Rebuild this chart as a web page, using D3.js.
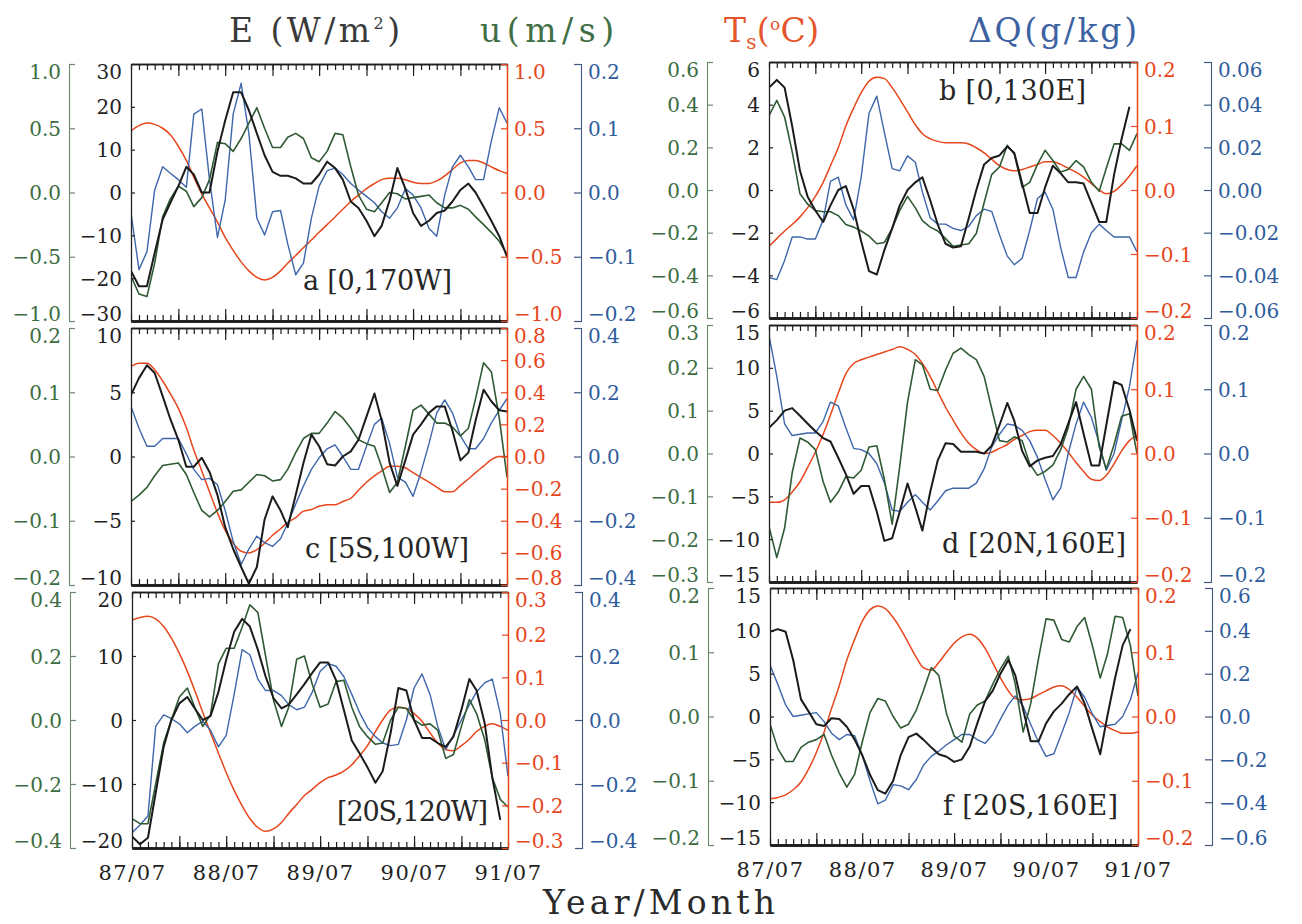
<!DOCTYPE html>
<html>
<head>
<meta charset="utf-8">
<script src="https://cdn.jsdelivr.net/npm/d3@7"></script>
<style>
  html, body { margin: 0; padding: 0; background: #ffffff; }
  svg { display: block; }
  text { font-family: "DejaVu Serif", serif; }
</style>
</head>
<body>
<svg id="chart" width="1302" height="924"></svg>
<script>
// ---- time axis -------------------------------------------------------------
const xTickLabels = ["87/07", "88/07", "89/07", "90/07", "91/07"];
const startMonth = new Date(1987, 6, 1);
const endMonth = new Date(1991, 6, 1);

// ---- a [0,170W] ------------------------------------------------------------
const E_a = [-18.3,-21.9,-21.9,-14.1,-6.3,-2.4,1.5,6.0,4.2,0.0, 0.0,9.6,16.8,23.4,23.4,19.2,13.8,8.7,4.8,3.9, 3.9,3.3,2.1,2.1,4.2,7.2,5.7,3.0,-2.1,-3.6, -6.6,-10.2,-7.8,-1.8,5.7,0.9,-4.8,-7.8,-6.6,-4.8, -4.2,-2.1,0.6,2.1,0.0,-3.3,-6.6,-10.2,-15.0];
const U_a = [-0.65,-0.79,-0.81,-0.55,-0.19,-0.05,0.05,0.01,-0.11,-0.04, 0.10,0.39,0.38,0.32,0.42,0.54,0.66,0.50,0.35,0.35, 0.43,0.46,0.42,0.27,0.24,0.32,0.46,0.45,0.20,-0.02, -0.13,-0.15,-0.08,0.00,-0.01,-0.05,-0.04,-0.03,-0.02,-0.08, -0.12,-0.12,-0.10,-0.13,-0.19,-0.25,-0.31,-0.38,-0.48];
const TS_a = [0.48,0.52,0.54,0.53,0.50,0.45,0.36,0.25,0.12,-0.01, -0.12,-0.23,-0.35,-0.45,-0.54,-0.61,-0.66,-0.68,-0.66,-0.61, -0.55,-0.49,-0.43,-0.37,-0.31,-0.25,-0.19,-0.13,-0.07,-0.02, 0.03,0.07,0.10,0.11,0.11,0.10,0.08,0.07,0.07,0.09, 0.13,0.18,0.23,0.25,0.25,0.23,0.20,0.17,0.15];
const DQ_a = [-0.032,-0.120,-0.092,0.004,0.040,0.030,0.020,0.008,0.122,0.130, 0.020,-0.070,-0.012,0.122,0.170,0.092,-0.040,-0.066,-0.030,-0.028, -0.080,-0.128,-0.110,-0.040,0.010,0.034,0.038,0.028,0.014,0.004, -0.006,-0.016,-0.030,-0.040,-0.024,0.006,-0.004,-0.024,-0.056,-0.068, -0.004,0.040,0.058,0.040,0.020,0.020,0.080,0.132,0.108];

// ---- b [0,130E] ------------------------------------------------------------
const E_b = [4.8,5.16,4.8,3.0,0.9,-0.3,-0.96,-1.5,-0.72,0.0, 0.18,-0.9,-2.4,-3.8,-3.96,-2.82,-1.8,-0.72,0.0,0.36, 0.6,-0.48,-1.62,-2.52,-2.7,-2.64,-1.32,0.0,1.2,1.5, 1.62,2.04,1.74,0.3,-1.08,-1.08,0.12,1.14,0.78,0.36, 0.36,0.3,-0.6,-1.5,-1.5,0.72,2.4,3.9,null];
const U_b = [0.348,0.42,0.342,0.18,-0.018,-0.066,-0.096,-0.102,-0.102,-0.12, -0.162,-0.174,-0.192,-0.216,-0.252,-0.246,-0.18,-0.096,-0.03,-0.084, -0.144,-0.174,-0.192,-0.228,-0.264,-0.258,-0.252,-0.204,-0.06,0.072, 0.108,0.21,0.168,0.012,0.036,0.12,0.186,0.138,0.084,0.096, 0.138,0.108,0.036,-0.006,0.102,0.216,0.216,0.186,0.264];
const TS_b = [-0.088,-0.076,-0.064,-0.054,-0.042,-0.028,-0.010,0.012,0.038,0.066, 0.100,0.128,0.152,0.170,0.176,0.174,0.160,0.142,0.122,0.102, 0.088,0.080,0.076,0.074,0.074,0.074,0.072,0.066,0.058,0.048, 0.038,0.032,0.030,0.032,0.036,0.040,0.044,0.044,0.040,0.034, 0.028,0.020,0.010,0.000,-0.006,-0.002,0.008,0.022,0.038];
const DQ_b = [-0.041,-0.042,-0.033,-0.022,-0.022,-0.023,-0.023,-0.014,0.004,0.006, -0.007,-0.014,0.006,0.036,0.044,0.027,0.010,0.009,0.016,0.013, -0.001,-0.013,-0.016,-0.016,-0.018,-0.019,-0.017,-0.012,-0.009,-0.010, -0.021,-0.031,-0.035,-0.032,-0.019,-0.004,-0.001,-0.009,-0.027,-0.041, -0.041,-0.029,-0.020,-0.016,-0.019,-0.022,-0.022,-0.022,-0.029];

// ---- c [5S,100W] -----------------------------------------------------------
const E_c = [4.8,6.1,7.1,6.5,4.7,2.9,1.3,-0.8,-0.8,-0.1, -1.2,-3.0,-5.5,-7.2,-8.6,-9.9,-8.6,-4.9,-3.1,-4.2, -5.5,-3.0,-0.5,1.7,0.8,-0.6,-0.7,0.0,0.4,1.3, 3.1,4.9,2.8,-0.5,-2.3,-0.3,1.7,2.5,3.4,3.9, 3.9,2.0,-0.3,0.3,2.8,5.2,4.3,3.6,3.5];
const U_c = [-0.070,-0.060,-0.048,-0.030,-0.014,-0.012,-0.010,-0.028,-0.056,-0.084, -0.094,-0.084,-0.070,-0.054,-0.052,-0.040,-0.028,-0.030,-0.038,-0.036, -0.020,0.006,0.028,0.036,0.036,0.052,0.070,0.060,0.044,0.026, 0.020,0.016,-0.016,-0.056,-0.040,0.016,0.072,0.080,0.066,0.052, 0.052,0.046,0.032,0.044,0.090,0.146,0.132,0.060,-0.032];
const TS_c = [0.56,0.58,0.58,0.54,0.47,0.39,0.30,0.18,0.04,-0.09, -0.22,-0.35,-0.46,-0.54,-0.59,-0.60,-0.58,-0.54,-0.49,-0.45, -0.41,-0.38,-0.34,-0.33,-0.31,-0.30,-0.30,-0.28,-0.26,-0.21, -0.16,-0.12,-0.09,-0.06,-0.06,-0.07,-0.10,-0.13,-0.16,-0.19, -0.22,-0.22,-0.18,-0.14,-0.10,-0.06,-0.02,0.00,0.00];
const DQ_c = [0.156,0.088,0.032,0.032,0.056,0.056,0.056,0.008,-0.040,-0.072, -0.068,-0.088,-0.168,-0.264,-0.336,-0.288,-0.248,-0.268,-0.280,-0.256, -0.208,-0.148,-0.092,-0.040,-0.004,0.024,0.036,0.000,-0.040,-0.040, 0.032,0.100,0.120,0.040,-0.064,-0.080,-0.124,-0.048,0.040,0.136, 0.176,0.136,0.064,0.024,0.024,0.056,0.104,0.144,0.180];

// ---- d [20N,160E] ----------------------------------------------------------
const E_d = [3.0,3.9,5.0,5.3,4.4,3.5,2.6,1.8,1.4,-0.5, -2.4,-4.7,-3.8,-3.8,-6.8,-10.2,-9.9,-6.8,-3.5,-6.3, -9.0,-4.5,-0.8,1.2,1.1,0.2,0.2,0.2,0.0,0.9, 3.3,5.9,3.8,0.3,-1.5,-0.8,-0.5,-0.3,1.1,3.5, 6.0,2.3,-1.4,-1.4,3.3,8.4,8.0,5.1,1.5];
const U_d = [-0.171,-0.243,-0.174,-0.045,0.036,0.027,0.009,-0.066,-0.114,-0.090, -0.054,-0.057,-0.039,0.015,0.018,-0.060,-0.165,-0.030,0.120,0.219, 0.207,0.150,0.147,0.195,0.234,0.246,0.231,0.219,0.180,0.105, 0.030,0.027,0.039,0.030,-0.024,-0.051,-0.042,-0.027,0.009,0.060, 0.150,0.180,0.150,0.015,-0.036,0.021,0.087,0.093,0.000];
const TS_d = [-0.076,-0.076,-0.072,-0.060,-0.044,-0.022,0.002,0.030,0.060,0.094, 0.124,0.140,0.146,0.150,0.154,0.158,0.162,0.166,0.162,0.154, 0.140,0.120,0.096,0.072,0.052,0.032,0.016,0.006,0.000,0.002, 0.008,0.014,0.022,0.028,0.034,0.036,0.036,0.028,0.016,0.002, -0.014,-0.028,-0.040,-0.042,-0.034,-0.016,0.004,0.020,0.028];
const DQ_d = [0.184,0.120,0.046,0.028,0.030,0.032,0.032,0.050,0.080,0.074, 0.040,0.008,0.006,0.000,-0.016,-0.046,-0.088,-0.090,-0.076,-0.064, -0.076,-0.088,-0.074,-0.058,-0.054,-0.054,-0.054,-0.046,-0.024,0.010, 0.030,0.046,0.044,0.036,0.020,-0.006,-0.040,-0.072,-0.054,0.000, 0.046,0.080,0.056,0.016,-0.026,0.000,0.052,0.104,0.176];

// ---- [20S,120W] ------------------------------------------------------------
const E_e = [-18.2,-19.4,-18.4,-11.4,-4.2,0.0,2.6,3.6,1.8,0.0, 0.6,4.4,9.4,13.8,15.8,14.6,11.0,6.8,3.4,1.8, 2.4,4.0,5.6,7.4,9.0,9.0,6.2,1.6,-3.2,-5.2, -7.4,-9.8,-8.0,-2.0,5.0,4.6,0.0,-2.8,-2.8,-3.6, -4.2,-2.6,1.6,6.4,4.6,-0.4,-9.0,-15.6,null];
const U_e = [-0.308,-0.324,-0.324,-0.200,-0.072,0.000,0.072,0.100,0.040,-0.020, 0.016,0.176,0.224,0.224,0.290,0.360,0.336,0.200,0.062,-0.020, 0.040,0.190,0.200,0.110,0.040,0.050,0.120,0.124,0.040,-0.020, -0.052,-0.076,-0.072,0.000,0.040,0.036,0.000,-0.016,-0.012,-0.032, -0.120,-0.108,-0.020,0.064,0.020,-0.060,-0.180,-0.248,-0.272];
const TS_e = [0.234,0.240,0.243,0.237,0.219,0.192,0.156,0.114,0.069,0.018, -0.030,-0.078,-0.123,-0.165,-0.201,-0.231,-0.252,-0.261,-0.255,-0.240, -0.219,-0.198,-0.177,-0.162,-0.147,-0.135,-0.129,-0.120,-0.105,-0.084, -0.060,-0.027,0.000,0.024,0.030,0.027,0.015,-0.003,-0.030,-0.054, -0.069,-0.072,-0.060,-0.045,-0.027,-0.015,-0.009,-0.015,-0.024];
const DQ_e = [-0.352,-0.328,-0.300,-0.020,0.016,0.004,-0.012,-0.040,-0.020,-0.004, -0.032,-0.084,-0.048,0.080,0.220,0.204,0.128,0.092,0.092,0.076, 0.048,0.032,0.040,0.088,0.152,0.176,0.168,0.136,0.080,0.024, -0.024,-0.052,-0.072,-0.080,-0.076,0.000,0.100,0.144,0.080,-0.020, -0.092,-0.048,0.000,0.048,0.088,0.116,0.128,0.020,-0.176];

// ---- f [20S,160E] ----------------------------------------------------------
const E_f = [9.9,10.2,9.9,6.6,2.0,0.6,-0.9,-1.1,-0.2,-0.3, -1.2,-2.7,-4.5,-6.8,-8.6,-9.0,-7.5,-4.5,-2.4,-2.0, -2.7,-3.6,-4.4,-4.7,-5.3,-5.0,-3.5,-0.8,1.8,3.0, 5.0,6.6,4.8,0.8,-2.9,-2.9,-0.8,0.6,1.5,2.6, 3.5,1.5,-1.5,-4.4,0.0,4.5,8.3,10.2,null];
const U_f = [-0.012,-0.050,-0.070,-0.070,-0.048,-0.040,-0.036,-0.028,-0.060,-0.088, -0.110,-0.090,-0.040,0.006,0.028,0.024,0.000,-0.018,-0.012,0.010, 0.040,0.076,0.064,0.004,-0.030,-0.040,0.004,0.018,0.024,0.050, 0.074,0.094,0.050,-0.024,0.020,0.090,0.152,0.150,0.120,0.116, 0.140,0.154,0.110,0.060,0.096,0.156,0.154,0.110,0.032];
const TS_f = [-0.128,-0.126,-0.122,-0.114,-0.102,-0.082,-0.056,-0.024,0.012,0.048, 0.088,0.120,0.148,0.166,0.172,0.168,0.154,0.136,0.114,0.092, 0.076,0.072,0.084,0.100,0.114,0.124,0.128,0.122,0.106,0.084, 0.060,0.040,0.028,0.026,0.028,0.034,0.040,0.046,0.048,0.042, 0.030,0.016,0.002,-0.008,-0.016,-0.022,-0.026,-0.026,-0.024];
const DQ_f = [0.240,0.150,0.054,0.000,0.006,0.012,0.018,-0.024,-0.078,-0.108, -0.084,-0.090,-0.180,-0.300,-0.408,-0.390,-0.318,-0.324,-0.342,-0.294, -0.228,-0.186,-0.162,-0.132,-0.108,-0.084,-0.084,-0.108,-0.126,-0.084, -0.012,0.054,0.096,0.048,-0.036,-0.120,-0.186,-0.174,-0.078,0.018, 0.138,0.090,0.012,-0.048,-0.042,-0.036,0.000,0.078,0.204];

// ---- panel definitions: series + symmetric axis ranges ---------------------
const panels = [
  { id: "a", label: "a [0,170W]",   E: E_a, u: U_a, ts: TS_a, dq: DQ_a, eMax: 30, eStep: 10, uMax: 1.0, uStep: 0.5, tMax: 1.0, tStep: 0.5, qMax: 0.2,  qStep: 0.1,  qDec: 1 },
  { id: "b", label: "b [0,130E]",   E: E_b, u: U_b, ts: TS_b, dq: DQ_b, eMax: 6,  eStep: 2,  uMax: 0.6, uStep: 0.2, tMax: 0.2, tStep: 0.1, qMax: 0.06, qStep: 0.02, qDec: 2 },
  { id: "c", label: "c [5S,100W]",  E: E_c, u: U_c, ts: TS_c, dq: DQ_c, eMax: 10, eStep: 5,  uMax: 0.2, uStep: 0.1, tMax: 0.8, tStep: 0.2, qMax: 0.4,  qStep: 0.2,  qDec: 1 },
  { id: "d", label: "d [20N,160E]", E: E_d, u: U_d, ts: TS_d, dq: DQ_d, eMax: 15, eStep: 5,  uMax: 0.3, uStep: 0.1, tMax: 0.2, tStep: 0.1, qMax: 0.2,  qStep: 0.1,  qDec: 1 },
  { id: "e", label: "[20S,120W]",   E: E_e, u: U_e, ts: TS_e, dq: DQ_e, eMax: 20, eStep: 10, uMax: 0.4, uStep: 0.2, tMax: 0.3, tStep: 0.1, qMax: 0.4,  qStep: 0.2,  qDec: 1 },
  { id: "f", label: "f [20S,160E]", E: E_f, u: U_f, ts: TS_f, dq: DQ_f, eMax: 15, eStep: 5,  uMax: 0.2, uStep: 0.1, tMax: 0.2, tStep: 0.1, qMax: 0.6,  qStep: 0.2,  qDec: 1 }
];

// ---- page layout (plot boxes and panel tag placement) ----------------------
const boxes = {
  a: { x0: 131, x1: 507,  y0: 64,  y1: 321, lx: 303, ly: 290, lw: 149 },
  b: { x0: 769, x1: 1137, y0: 62,  y1: 318, lx: 939, ly: 100, lw: 147 },
  c: { x0: 131, x1: 507,  y0: 328, y1: 585, lx: 305, ly: 558, lw: 164 },
  d: { x0: 769, x1: 1137, y0: 325, y1: 582, lx: 942, ly: 553, lw: 184 },
  e: { x0: 132, x1: 508,  y0: 592, y1: 848, lx: 337, ly: 821, lw: 151 },
  f: { x0: 770, x1: 1138, y0: 588, y1: 845, lx: 943, ly: 815, lw: 175 }
};

const COL = {
  black: "#1b1b1b",
  green: "#2f5a34",
  greenAxis: "#6a8a6c",
  greenText: "#3c6c42",
  blue: "#3d66ab",
  blueAxis: "#3e587e",
  blueText: "#2f5c9c",
  red: "#e6461c",
  ink: "#222222"
};

const svg = d3.select("#chart");
svg.append("rect").attr("width", 1302).attr("height", 924).attr("fill", "#ffffff");

const months = d3.timeMonth.range(startMonth, d3.timeMonth.offset(endMonth, 1));
const majorMonths = months.filter((d, i) => i % 6 === 0 && i > 0 && i < months.length - 1);
const yearMonths = months.filter((d, i) => i % 12 === 0);

function symTicks(max, step) {
  const n = Math.round(max / step);
  return d3.range(-n, n + 1).map(i => +(i * step).toFixed(6));
}

// tick labels at the two ends of an axis are pulled inside the span
function styleAxis(sel, lineColor, textColor, max, domainWidth) {
  sel.attr("font-family", null).attr("font-size", null).attr("fill", "none");
  sel.select(".domain").attr("fill", "none").attr("stroke", lineColor).attr("stroke-width", domainWidth || 1.1);
  sel.selectAll(".tick line").attr("stroke", lineColor).attr("stroke-width", 1.2);
  sel.selectAll(".tick text")
    .attr("fill", textColor)
    .style("font-family", "'DejaVu Serif', serif")
    .style("font-size", "20px")
    .attr("dy", d => Math.abs(d - max) < 1e-9 ? "0.74em" : (Math.abs(d + max) < 1e-9 ? "-0.04em" : "0.35em"));
}

panels.forEach(p => {
  const b = boxes[p.id];
  const x = d3.scaleTime().domain([startMonth, endMonth]).range([b.x0, b.x1]);
  const yScale = m => d3.scaleLinear().domain([-m, m]).range([b.y1, b.y0]);
  const yE = yScale(p.eMax), yU = yScale(p.uMax), yT = yScale(p.tMax), yQ = yScale(p.qMax);

  const g = svg.append("g").attr("class", "panel panel-" + p.id);
  const clipId = "clip-" + p.id;
  g.append("clipPath").attr("id", clipId)
    .append("rect").attr("x", b.x0).attr("y", b.y0 - 1).attr("width", b.x1 - b.x0).attr("height", b.y1 - b.y0 + 2);

  // data curves: SST smooth, the others as monthly polylines
  const plot = g.append("g").attr("clip-path", `url(#${clipId})`);
  const series = [
    { vals: p.ts, y: yT, color: COL.red,   w: 1.5, curve: d3.curveMonotoneX },
    { vals: p.dq, y: yQ, color: COL.blue,  w: 1.4, curve: d3.curveLinear },
    { vals: p.u,  y: yU, color: COL.green, w: 1.6, curve: d3.curveLinear },
    { vals: p.E,  y: yE, color: COL.black, w: 2.0, curve: d3.curveLinear }
  ];
  series.forEach(s => {
    const line = d3.line()
      .defined(d => d !== null)
      .x((d, i) => x(months[i]))
      .y(d => s.y(d))
      .curve(s.curve);
    plot.append("path").datum(s.vals)
      .attr("fill", "none")
      .attr("stroke", s.color)
      .attr("stroke-width", s.w)
      .attr("stroke-linejoin", "round")
      .attr("d", line);
  });

  // top and bottom frame with monthly ticks (longer every six months)
  const top = g.append("g").attr("transform", `translate(0,${b.y0})`);
  top.append("g").call(d3.axisTop(x).tickValues(months).tickSizeInner(-6).tickSizeOuter(0).tickFormat(""))
    .call(s => styleAxis(s, COL.black, COL.black, 0, 1.6));
  top.append("g").call(d3.axisTop(x).tickValues(majorMonths).tickSizeInner(-12).tickSizeOuter(0).tickFormat(""))
    .call(s => styleAxis(s, COL.black, COL.black, 0, 1.6));
  const bot = g.append("g").attr("transform", `translate(0,${b.y1})`);
  bot.append("g").call(d3.axisBottom(x).tickValues(months).tickSizeInner(-6).tickSizeOuter(0).tickFormat(""))
    .call(s => styleAxis(s, COL.black, COL.black, 0, 2.4));
  bot.append("g").call(d3.axisBottom(x).tickValues(majorMonths).tickSizeInner(-12).tickSizeOuter(0).tickFormat(""))
    .call(s => styleAxis(s, COL.black, COL.black, 0, 2.4));

  // E axis on the left frame
  g.append("g").attr("transform", `translate(${b.x0},0)`)
    .call(d3.axisLeft(yE).tickValues(symTicks(p.eMax, p.eStep)).tickSizeInner(-4).tickSizeOuter(0).tickPadding(9).tickFormat(d3.format("d")))
    .call(s => styleAxis(s, COL.ink, COL.ink, p.eMax, 1.3));

  // u axis, detached to the far left
  g.append("g").attr("transform", `translate(${b.x0 - 62},0)`)
    .call(d3.axisLeft(yU).tickValues(symTicks(p.uMax, p.uStep)).tickSizeInner(-6).tickSizeOuter(-5).tickPadding(8).tickFormat(d3.format(".1f")))
    .call(s => styleAxis(s, COL.greenAxis, COL.greenText, p.uMax, 1.1));

  // Ts axis on the right frame
  g.append("g").attr("transform", `translate(${b.x1},0)`)
    .call(d3.axisRight(yT).tickValues(symTicks(p.tMax, p.tStep)).tickSizeInner(-6).tickSizeOuter(0).tickPadding(7).tickFormat(d3.format(".1f")))
    .call(s => styleAxis(s, COL.red, COL.red, p.tMax, 1.5));

  // dQ axis, detached to the far right
  g.append("g").attr("transform", `translate(${b.x1 + 74},0)`)
    .call(d3.axisRight(yQ).tickValues(symTicks(p.qMax, p.qStep)).tickSizeInner(-7).tickSizeOuter(-5).tickPadding(7).tickFormat(d3.format("." + p.qDec + "f")))
    .call(s => styleAxis(s, COL.blueAxis, COL.blueText, p.qMax, 1.1));

  // month/year labels under the bottom row
  if (p.id === "e" || p.id === "f") {
    g.append("g").attr("transform", `translate(0,${b.y1})`)
      .call(d3.axisBottom(x).tickValues(yearMonths).tickSize(0).tickPadding(17).tickFormat((d, i) => xTickLabels[i]))
      .call(s => {
        s.attr("font-family", null).attr("font-size", null);
        s.select(".domain").remove();
        s.selectAll(".tick text").attr("fill", COL.ink)
          .style("font-family", "'DejaVu Serif', serif").style("font-size", "21px").style("letter-spacing", "1.5px");
      });
  }

  // station tag
  g.append("text")
    .attr("x", b.lx).attr("y", b.ly)
    .attr("textLength", b.lw).attr("lengthAdjust", "spacing")
    .attr("fill", "#262626")
    .style("font-size", "27px")
    .text(p.label);
});

// ---- column headers --------------------------------------------------------
function header(x, y, w, color) {
  return svg.append("text").attr("x", x).attr("y", y)
    .attr("textLength", w).attr("lengthAdjust", "spacing")
    .attr("fill", color).style("font-size", "33px");
}
const hE = header(229, 42, 171, "#3a3a3a");
hE.append("tspan").text("E (W/m");
hE.append("tspan").attr("dy", -13).style("font-size", "16px").text("2");
hE.append("tspan").attr("dy", 13).text(")");

header(480, 42, 134, "#3f6e44").text("u(m/s)");

const hT = header(724, 42, 95, "#e5552c");
hT.append("tspan").text("T");
hT.append("tspan").attr("dy", 7).style("font-size", "20px").text("s");
hT.append("tspan").attr("dy", -7).text("(");
hT.append("tspan").attr("dy", -12).style("font-size", "17px").text("o");
hT.append("tspan").attr("dy", 12).text("C)");

header(968, 42, 169, "#3d62a2").text("ΔQ(g/kg)");

svg.append("text").attr("x", 543).attr("y", 914)
  .attr("textLength", 232).attr("lengthAdjust", "spacing")
  .attr("fill", "#2a2a2a").style("font-size", "33px")
  .text("Year/Month");
</script>
</body>
</html>
